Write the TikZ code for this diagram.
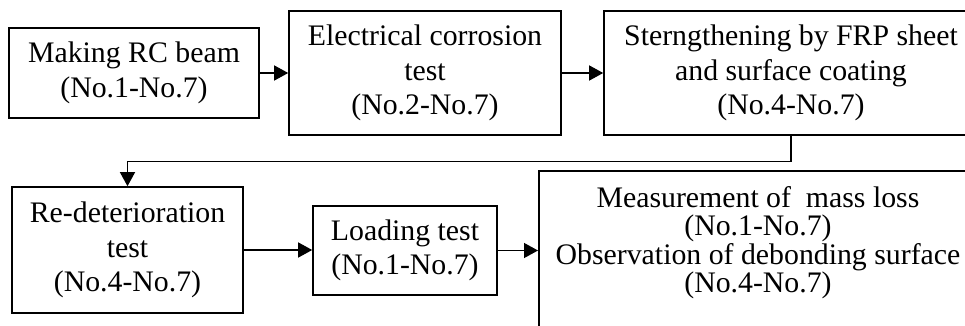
\documentclass[tikz,border=0pt]{standalone}
\usepackage{fontspec}
\setmainfont{Liberation Serif}
\usetikzlibrary{arrows.meta}
\begin{document}
\begin{tikzpicture}[x=1pt,y=-1pt,
  box/.style={draw, line width=1.6pt, align=center, inner sep=0pt,
    font=\fontsize{29.8}{34.5}\selectfont},
  conn/.style={line width=1.3pt, -{Triangle[length=14pt,width=15pt]}}]
\useasboundingbox (0,0) rectangle (965,326);
\clip (0,0) rectangle (965,326);
\node[box, minimum width=250pt, minimum height=90pt] (b1) at (134,73) {Making RC beam\\(No.1-No.7)};
\node[box, minimum width=272pt, minimum height=124pt] (b2) at (425,73) {Electrical corrosion\\test\\(No.2-No.7)};
\node[box, minimum width=374pt, minimum height=124pt] (b3) at (791,73) {Sterngthening by FRP sheet\\and surface coating\\(No.4-No.7)};
\node[box, minimum width=231pt, minimum height=126pt] (b4) at (127.5,250) {Re-deterioration\\test\\(No.4-No.7)};
\node[box, minimum width=184pt, minimum height=89pt] (b5) at (405,250.5) {Loading test\\(No.1-No.7)};
\node[box, minimum width=440pt, minimum height=180pt, anchor=north west] (b6) at (538,170) {};
\node[align=center, inner sep=0pt, anchor=north, font=\fontsize{29.8}{28.3}\selectfont] (t6) at (758,186.5)
  {Measurement of\ \ mass loss\\(No.1-No.7)\\Observation of debonding surface\\(No.4-No.7)};
\draw[conn] (b1.east) -- (b2.west);
\draw[conn] (b2.east) -- (b3.west);
\draw[conn] (b3.south) -- ++(0,26) -| (b4.north);
\draw[conn] (b4.east) -- (b4.east -| b5.west);
\draw[conn] (b5.east) -- (b5.east -| b6.west);
\end{tikzpicture}
\end{document}
